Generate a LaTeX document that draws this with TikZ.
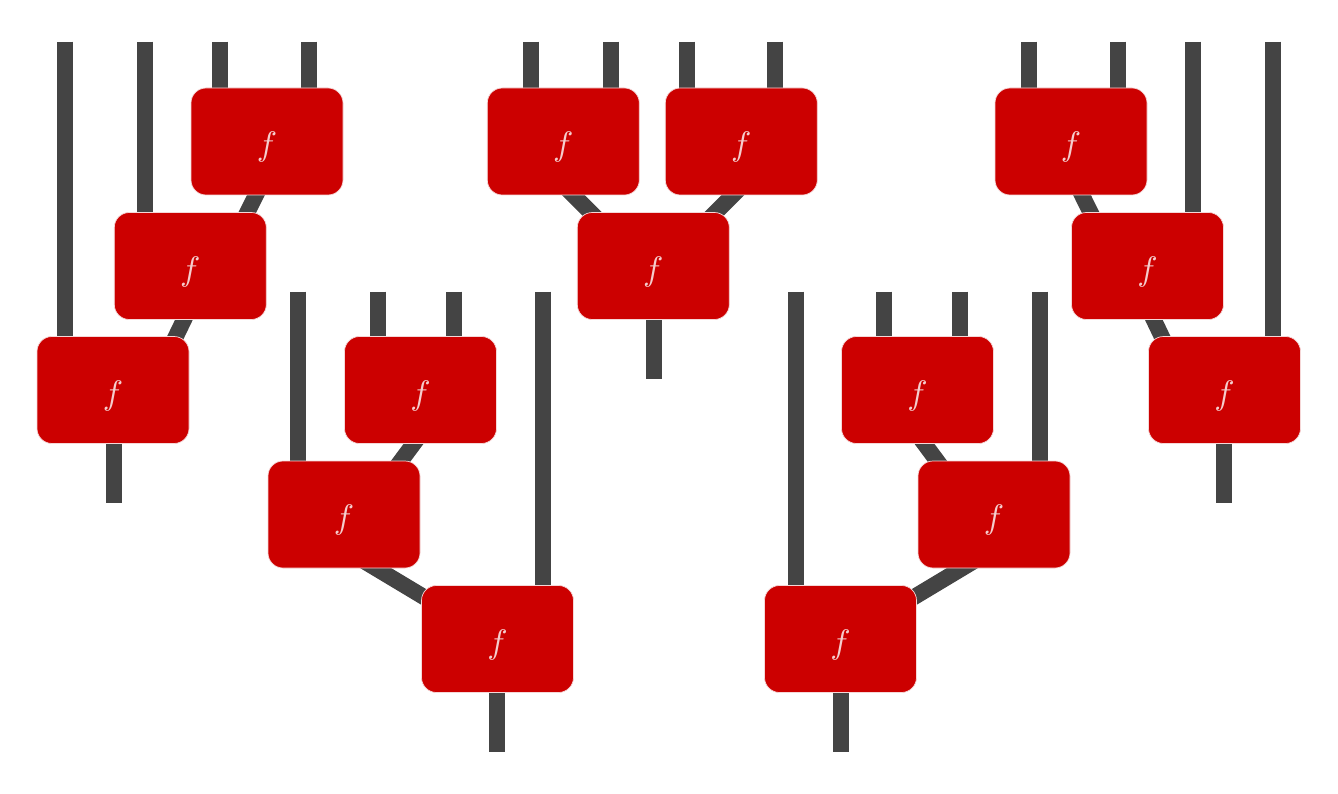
\documentclass[tikz,border=0pt]{standalone}
\usepackage{graphicx}
\usetikzlibrary{calc,backgrounds}
\definecolor{wirec}{RGB}{68,68,68}
\definecolor{boxred}{RGB}{204,0,0}
\definecolor{boxedge}{RGB}{245,215,215}
\definecolor{ftext}{RGB}{245,205,205}
\newcommand{\fsym}{\scalebox{3.4}{$f$}}
\begin{document}
\begin{tikzpicture}[x=1pt,y=-1pt,
  wire/.style={draw=wirec,line width=16pt},
  fbox/.style={draw=boxedge,line width=0.7pt,fill=boxred,rounded corners=15pt,
    minimum width=152pt,minimum height=107pt,inner sep=0pt,text=ftext,
    text height=28pt,text depth=0pt}]
\useasboundingbox (0,0) rectangle (1338,794);
% boxes
\node[fbox] (A1) at (267,141.5) {\fsym};
\node[fbox] (B1) at (190.3,266) {\fsym};
\node[fbox] (C1) at (113,390) {\fsym};
\node[fbox] (A2) at (420.5,390) {\fsym};
\node[fbox] (B2) at (344,514.5) {\fsym};
\node[fbox] (C2) at (497.5,639) {\fsym};
\node[fbox] (A3) at (563.3,141.5) {\fsym};
\node[fbox] (D3) at (741.3,141.5) {\fsym};
\node[fbox] (B3) at (653.3,266) {\fsym};
\node[fbox] (A4) at (917.5,390) {\fsym};
\node[fbox] (B4) at (994,514.5) {\fsym};
\node[fbox] (C4) at (840.5,639) {\fsym};
\node[fbox] (A5) at (1071,141.5) {\fsym};
\node[fbox] (B5) at (1147.5,266) {\fsym};
\node[fbox] (C5) at (1224.5,390) {\fsym};
% free wire ends
\coordinate (t11) at (64.7,41.7);
\coordinate (t12) at (145.3,41.7);
\coordinate (t13) at (220.3,41.7);
\coordinate (t14) at (309.3,41.7);
\coordinate (o1) at (113.8,503.3);
\coordinate (t21) at (298,291.7);
\coordinate (t22) at (378,291.7);
\coordinate (t23) at (454,291.7);
\coordinate (t24) at (542.5,291.7);
\coordinate (o2) at (497.3,752.3);
\coordinate (t31) at (531.3,41.7);
\coordinate (t32) at (611.3,41.7);
\coordinate (t33) at (687.3,41.7);
\coordinate (t34) at (775.3,41.7);
\coordinate (o3) at (653.7,379);
\coordinate (t41) at (795.5,291.7);
\coordinate (t42) at (884,291.7);
\coordinate (t43) at (960,291.7);
\coordinate (t44) at (1040,291.7);
\coordinate (o4) at (840.7,752.3);
\coordinate (t51) at (1028.7,41.7);
\coordinate (t52) at (1117.7,41.7);
\coordinate (t53) at (1192.7,41.7);
\coordinate (t54) at (1273.3,41.7);
\coordinate (o5) at (1224.2,503.3);
\begin{scope}[on background layer]
\fill[white] (0,0) rectangle (1338,794);
% diagram 1
\draw[wire] (t11) -- (t11 |- C1);
\draw[wire] (t12) -- (t12 |- B1);
\draw[wire] (t13) -- (t13 |- A1);
\draw[wire] (t14) -- (t14 |- A1);
\draw[wire] ($(A1)+(-1,33.5)$) -- ($(B1)+(45.7,-31)$);
\draw[wire] ($(B1)+(3.2,34)$) -- ($(C1)+(51.5,-30)$);
\draw[wire] (o1 |- C1) -- (o1);
% diagram 2
\draw[wire] (t21) -- (t21 |- B2);
\draw[wire] (t22) -- (t22 |- A2);
\draw[wire] (t23) -- (t23 |- A2);
\draw[wire] (t24) -- (t24 |- C2);
\draw[wire] ($(A2)+(7,35)$) -- ($(B2)+(42.75,-34.5)$);
\draw[wire] ($(B2)+(1,35.2)$) -- ($(C2)+(-52.5,-29.3)$);
\draw[wire] (o2 |- C2) -- (o2);
% diagram 3
\draw[wire] (t31) -- (t31 |- A3);
\draw[wire] (t32) -- (t32 |- A3);
\draw[wire] (t33) -- (t33 |- D3);
\draw[wire] (t34) -- (t34 |- D3);
\draw[wire] ($(A3)+(-10,33.5)$) -- ($(B3)+(-40,-31)$);
\draw[wire] ($(D3)+(11.7,33.5)$) -- ($(B3)+(39.7,-31)$);
\draw[wire] (o3 |- B3) -- (o3);
% diagram 4
\draw[wire] (t41) -- (t41 |- C4);
\draw[wire] (t42) -- (t42 |- A4);
\draw[wire] (t43) -- (t43 |- A4);
\draw[wire] (t44) -- (t44 |- B4);
\draw[wire] ($(A4)+(-7,35)$) -- ($(B4)+(-42.75,-34.5)$);
\draw[wire] ($(B4)+(-1,35.2)$) -- ($(C4)+(52.5,-29.3)$);
\draw[wire] (o4 |- C4) -- (o4);
% diagram 5
\draw[wire] (t51) -- (t51 |- A5);
\draw[wire] (t52) -- (t52 |- A5);
\draw[wire] (t53) -- (t53 |- B5);
\draw[wire] (t54) -- (t54 |- C5);
\draw[wire] ($(A5)+(1,33.5)$) -- ($(B5)+(-45.7,-31)$);
\draw[wire] ($(B5)+(-3.2,34)$) -- ($(C5)+(-51.5,-30)$);
\draw[wire] (o5 |- C5) -- (o5);
\end{scope}
\end{tikzpicture}
\end{document}
